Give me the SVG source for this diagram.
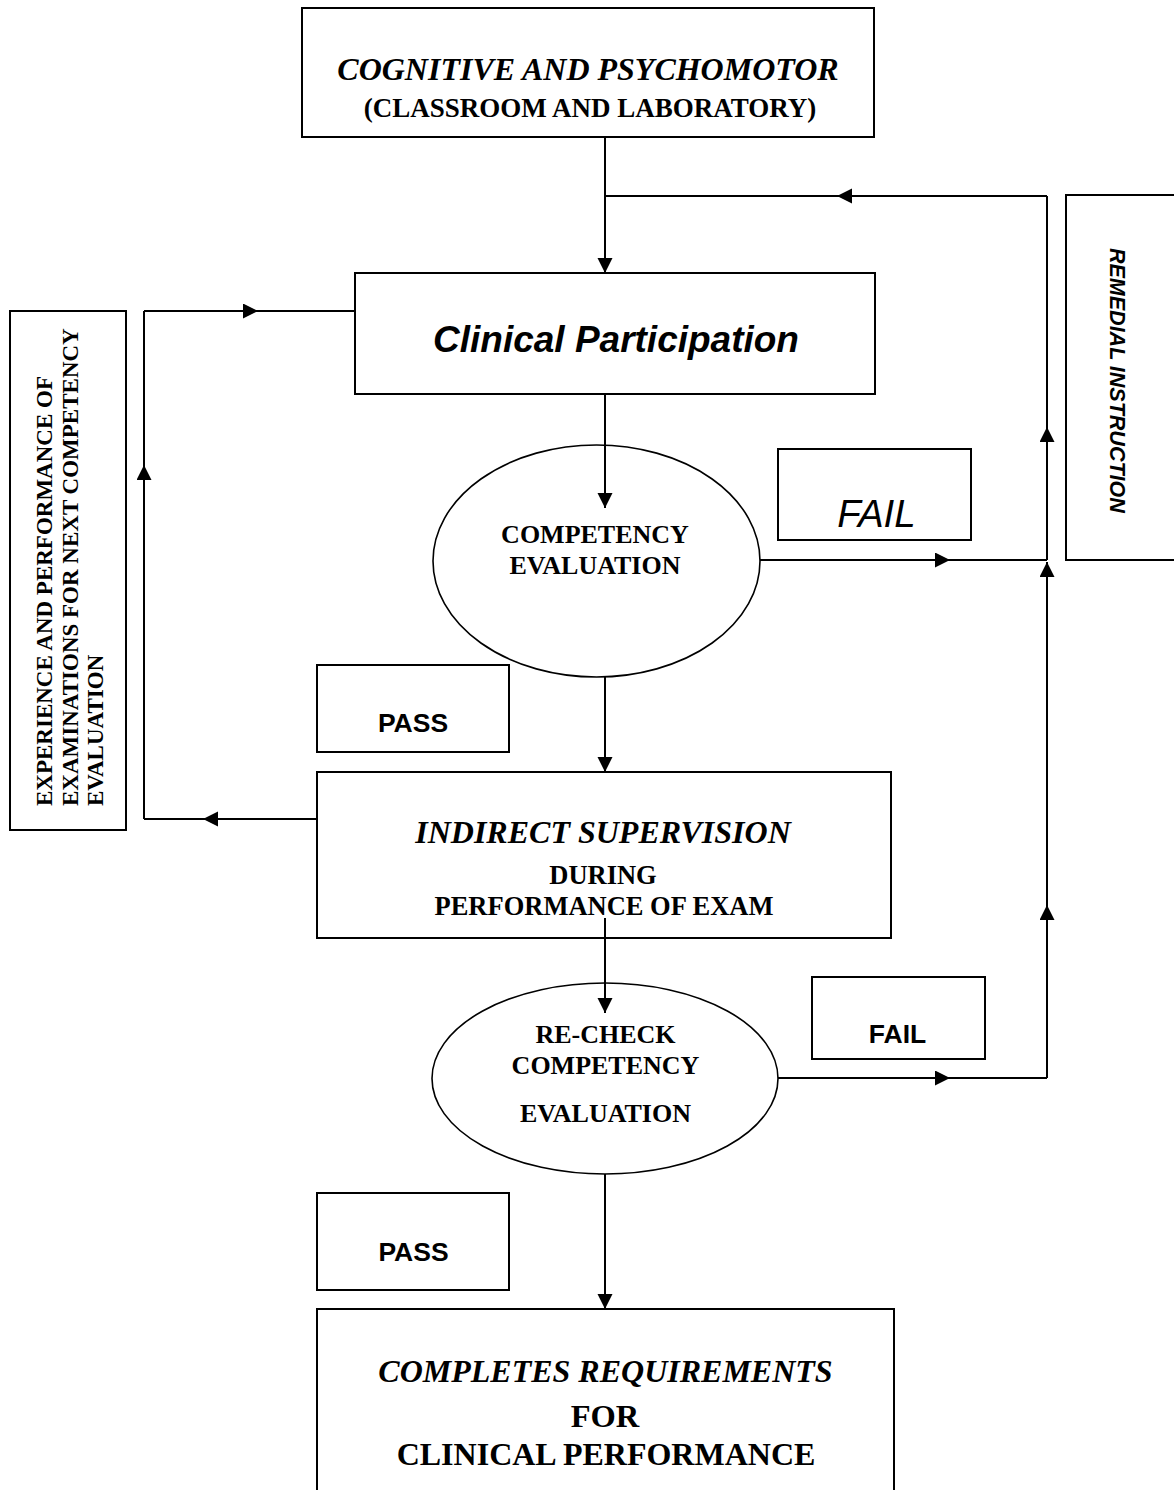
<svg xmlns="http://www.w3.org/2000/svg" width="1174" height="1490" viewBox="0 0 1174 1490">
<defs>
<marker id="ah" markerUnits="userSpaceOnUse" markerWidth="16" markerHeight="16" refX="15" refY="7.5" orient="auto">
<path d="M0,0 L15,7.5 L0,15 z" fill="#000"/>
</marker>
<style>
.box{fill:#fff;stroke:#000;stroke-width:2}
.ell{fill:#fff;stroke:#000;stroke-width:1.6}
.c{fill:none;stroke:#000;stroke-width:2}
.a{fill:none;stroke:#000;stroke-width:2;marker-end:url(#ah)}
.ser{font-family:"Liberation Serif","Times New Roman",serif;fill:#000}
.san{font-family:"Liberation Sans",Arial,sans-serif;fill:#000}
.mid{text-anchor:middle}
.b{font-weight:bold}
.i{font-style:italic}
</style>
</defs>
<rect width="1174" height="1490" fill="#fff"/>

<g id="cognitive">
<rect class="box" x="302" y="8" width="572" height="129"/>
<text class="ser b i mid" x="588" y="80" font-size="32">COGNITIVE AND PSYCHOMOTOR</text>
<text class="ser b mid" x="590" y="117" font-size="27">(CLASSROOM AND LABORATORY)</text>
</g>

<g id="clinical">
<rect class="box" x="355" y="273" width="520" height="121"/>
<text class="san b i mid" x="616" y="352" font-size="37">Clinical Participation</text>
</g>

<g id="experience">
<rect class="box" x="10" y="311" width="116" height="519"/>
<g transform="translate(52,806) rotate(-90)">
<text class="ser b" x="0" y="0" font-size="23">EXPERIENCE AND PERFORMANCE OF</text>
<text class="ser b" x="0" y="25.5" font-size="23">EXAMINATIONS FOR NEXT COMPETENCY</text>
<text class="ser b" x="0" y="51" font-size="23">EVALUATION</text>
</g>
</g>

<g id="remedial">
<rect class="box" x="1066" y="195" width="111" height="365"/>
<text class="san b i" transform="translate(1110,248) rotate(90)" x="0" y="0" font-size="21.5">REMEDIAL INSTRUCTION</text>
</g>

<g id="competency">
<ellipse class="ell" cx="596.5" cy="561" rx="163.5" ry="116"/>
<text class="ser b mid" x="595" y="543" font-size="26">COMPETENCY</text>
<text class="ser b mid" x="595" y="574" font-size="26">EVALUATION</text>
</g>

<g id="fail1">
<rect class="box" x="778" y="449" width="193" height="91"/>
<text class="san i mid" x="876.5" y="527" font-size="38.5">FAIL</text>
</g>

<g id="pass1">
<rect class="box" x="317" y="665" width="192" height="87"/>
<text class="san b mid" x="413" y="732" font-size="26.5">PASS</text>
</g>

<g id="indirect">
<rect class="box" x="317" y="772" width="574" height="166"/>
<text class="ser b i mid" x="603" y="843" font-size="32">INDIRECT SUPERVISION</text>
<text class="ser b mid" x="603" y="884" font-size="26.5">DURING</text>
<text class="ser b mid" x="604" y="915" font-size="26.5">PERFORMANCE OF EXAM</text>
</g>

<g id="recheck">
<ellipse class="ell" cx="605" cy="1078.5" rx="173" ry="95.5"/>
<text class="ser b mid" x="605.5" y="1043" font-size="26">RE-CHECK</text>
<text class="ser b mid" x="605.5" y="1074" font-size="26">COMPETENCY</text>
<text class="ser b mid" x="605.5" y="1122" font-size="26">EVALUATION</text>
</g>

<g id="fail2">
<rect class="box" x="812" y="977" width="173" height="82"/>
<text class="san b mid" x="897.5" y="1043" font-size="26.5">FAIL</text>
</g>

<g id="pass2">
<rect class="box" x="317" y="1193" width="192" height="97"/>
<text class="san b mid" x="413.5" y="1261" font-size="26.5">PASS</text>
</g>

<g id="completes">
<rect class="box" x="317" y="1309" width="577" height="200"/>
<text class="ser b i mid" x="605.5" y="1382" font-size="32">COMPLETES REQUIREMENTS</text>
<text class="ser b mid" x="605" y="1427" font-size="32.5">FOR</text>
<text class="ser b mid" x="606" y="1465" font-size="32">CLINICAL PERFORMANCE</text>
</g>

<g id="connectors">
<line class="a" x1="605" y1="137" x2="605" y2="273"/>
<line class="c" x1="605" y1="196" x2="837" y2="196"/>
<line class="a" x1="1047" y1="196" x2="837" y2="196"/>
<line class="a" x1="605" y1="394" x2="605" y2="508"/>
<line class="a" x1="605" y1="677" x2="605" y2="772"/>
<line class="a" x1="605" y1="918" x2="605" y2="1013"/>
<line class="a" x1="605" y1="1174" x2="605" y2="1309"/>
<line class="a" x1="317" y1="819" x2="203" y2="819"/>
<line class="c" x1="203" y1="819" x2="144" y2="819"/>
<line class="a" x1="144" y1="819" x2="144" y2="465"/>
<line class="c" x1="144" y1="465" x2="144" y2="311"/>
<line class="a" x1="144" y1="311" x2="258" y2="311"/>
<line class="c" x1="258" y1="311" x2="355" y2="311"/>
<line class="a" x1="760" y1="560" x2="950" y2="560"/>
<line class="c" x1="950" y1="560" x2="1047" y2="560"/>
<line class="a" x1="778" y1="1078" x2="950" y2="1078"/>
<line class="c" x1="950" y1="1078" x2="1047" y2="1078"/>
<line class="a" x1="1047" y1="1078" x2="1047" y2="905"/>
<line class="a" x1="1047" y1="905" x2="1047" y2="562"/>
<line class="a" x1="1047" y1="560" x2="1047" y2="427"/>
<line class="c" x1="1047" y1="427" x2="1047" y2="196"/>
</g>
</svg>
